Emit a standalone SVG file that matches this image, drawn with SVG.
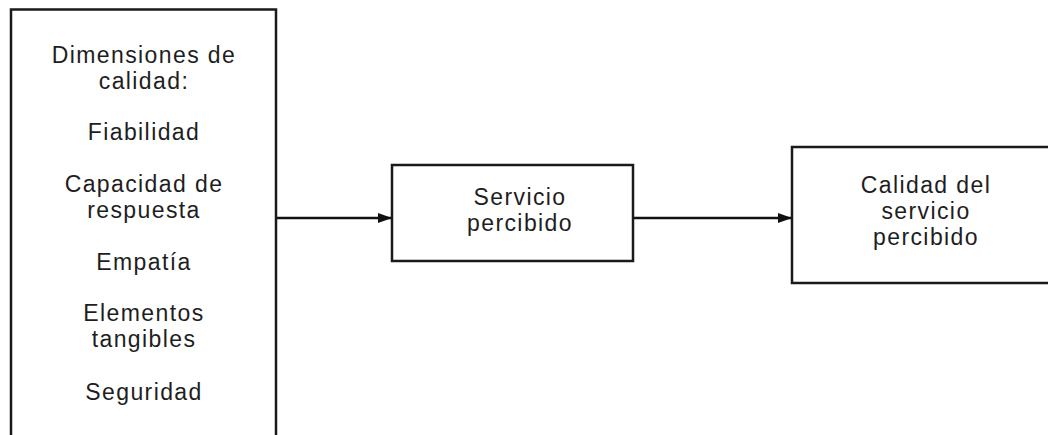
<svg xmlns="http://www.w3.org/2000/svg" width="1048" height="435" viewBox="0 0 1048 435">
<style>
.box{fill:#fff;stroke:#1a1a1a;stroke-width:2.5}
.t{font-family:"Liberation Sans",Arial,sans-serif;font-size:23px;letter-spacing:1.4px;fill:#1e1e1e;text-anchor:middle}
.c{stroke:#111;stroke-width:2.5;fill:none}
</style>
<defs>
<marker id="ah" markerWidth="14" markerHeight="10" refX="14" refY="5" orient="auto" markerUnits="userSpaceOnUse">
<path d="M0,0 L14,5 L0,10 Z" fill="#111"/>
</marker>
</defs>
<rect width="1048" height="435" fill="#fff"/>
<g id="connectors">
<line class="c" x1="276" y1="218" x2="392" y2="218" marker-end="url(#ah)"/>
<line class="c" x1="633" y1="218" x2="792" y2="218" marker-end="url(#ah)"/>
</g>
<g id="dimensiones">
<rect class="box" x="11" y="9.5" width="265" height="440"/>
<text class="t" x="144" y="63">Dimensiones de</text>
<text class="t" x="144" y="89">calidad:</text>
<text class="t" x="144" y="140">Fiabilidad</text>
<text class="t" x="144" y="192">Capacidad de</text>
<text class="t" x="144" y="218">respuesta</text>
<text class="t" x="144" y="270">Empatía</text>
<text class="t" x="144" y="321">Elementos</text>
<text class="t" x="144" y="347">tangibles</text>
<text class="t" x="144" y="400">Seguridad</text>
</g>
<g id="servicio">
<rect class="box" x="392" y="165" width="241" height="96"/>
<text class="t" x="520" y="205">Servicio</text>
<text class="t" x="520" y="231">percibido</text>
</g>
<g id="calidad">
<rect class="box" x="792" y="147" width="270" height="136"/>
<text class="t" x="926" y="193">Calidad del</text>
<text class="t" x="926" y="219">servicio</text>
<text class="t" x="926" y="245">percibido</text>
</g>
</svg>
